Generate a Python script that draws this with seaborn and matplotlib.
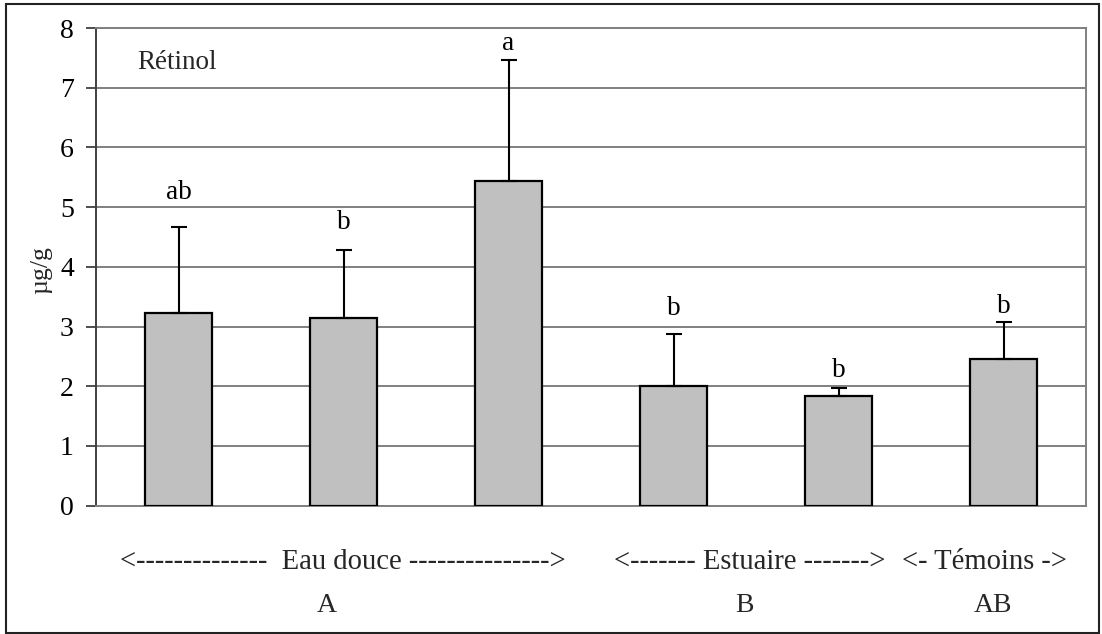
import matplotlib
matplotlib.use("Agg")
import matplotlib.pyplot as plt
from matplotlib.patches import Rectangle
import numpy as np
import pandas as pd
import seaborn as sns

# Retinol content per site (µg/g), mean and standard deviation
sites = ["Eau douce 1", "Eau douce 2", "Eau douce 3", "Estuaire 1", "Estuaire 2", "Témoins"]
means = [3.22, 3.15, 5.43, 2.01, 1.84, 2.45]
sds = [1.44, 1.14, 2.04, 0.87, 0.13, 0.63]
letters = ["ab", "b", "a", "b", "b", "b"]
yticks = [0, 1, 2, 3, 4, 5, 6, 7, 8]
group_labels = ["<--------------  Eau douce --------------->",
                "<------- Estuaire ------->",
                "<- Témoins ->"]
group_letters = ["A", "B", "AB"]

sns.set_theme(style="white")
plt.rcParams["font.family"] = ["Liberation Serif", "DejaVu Serif"]

W, H = 1102, 634
fig = plt.figure(figsize=(W / 100, H / 100), dpi=100)
fig.patch.set_facecolor("white")

# axes placed in pixel units
left, right, top, bottom = 96, 1086, 28, 505.7
ax = fig.add_axes([left / W, (H - bottom) / H, (right - left) / W, (bottom - top) / H])

df = pd.DataFrame({"site": sites, "mean": means, "sd": sds})
sns.barplot(data=df, x="site", y="mean", color="#c0c0c0", saturation=1,
            edgecolor="black", linewidth=1.6, width=0.41, ax=ax, zorder=3,
            errorbar=None)

xpos = np.arange(len(sites))
ax.errorbar(xpos, df["mean"], yerr=[np.zeros(len(sites)), df["sd"]],
            fmt="none", ecolor="black", elinewidth=1.5, capsize=5.5,
            capthick=1.5, zorder=4)

# significance letters above error bars
offsets = [0.47, 0.34, 0.16, 0.31, 0.18, 0.15]
for x, m, s, lab, off in zip(xpos, means, sds, letters, offsets):
    ax.text(x, m + s + off, lab, ha="center", va="baseline", fontsize=19.5,
            color="black", zorder=5)

ax.set_ylim(0, 8)
ax.set_xlim(-0.5, len(sites) - 0.5)
ax.set_yticks(yticks)
ax.set_yticklabels([str(t) for t in yticks], fontsize=20)
ax.set_xticks([])
ax.set_xlabel("")
ax.set_ylabel("")
ax.yaxis.grid(True, color="#808080", linewidth=1.4, zorder=0)
ax.set_axisbelow(True)
ax.tick_params(axis="y", which="major", direction="out", length=7, width=1.3,
               color="#404040", pad=9, left=True, labelcolor="black")
for side in ["top", "right", "bottom"]:
    ax.spines[side].set_color("#808080")
    ax.spines[side].set_linewidth(1.4)
ax.spines["left"].set_color("#404040")
ax.spines["left"].set_linewidth(1.4)

ax.text(137 / W, 1 - 69 / H, "Rétinol", transform=fig.transFigure,
        fontsize=19.5, ha="left", va="baseline")

fig.text(41 / W, 1 - 270 / H, "µg/g", rotation=90, ha="center", va="center",
         fontsize=18.5)

# group labels below the axis
group_x = [342.5, 749.5, 984]
letter_x = [327, 744, 993]
for gx, glab, lx, llab in zip(group_x, group_labels, letter_x, group_letters):
    fig.text(gx / W, 1 - 569 / H, glab, ha="center", va="baseline", fontsize=20.6)
    fig.text(lx / W, 1 - 612 / H, llab, ha="center", va="baseline", fontsize=20)

# frame around the whole figure
fig.patches.append(Rectangle((6 / W, 1 - 633 / H), (1099 - 6) / W, (633 - 4) / H,
                             transform=fig.transFigure, fill=False,
                             edgecolor="#222222", linewidth=1.5))

fig.savefig("out.png", dpi=100, facecolor="white")
